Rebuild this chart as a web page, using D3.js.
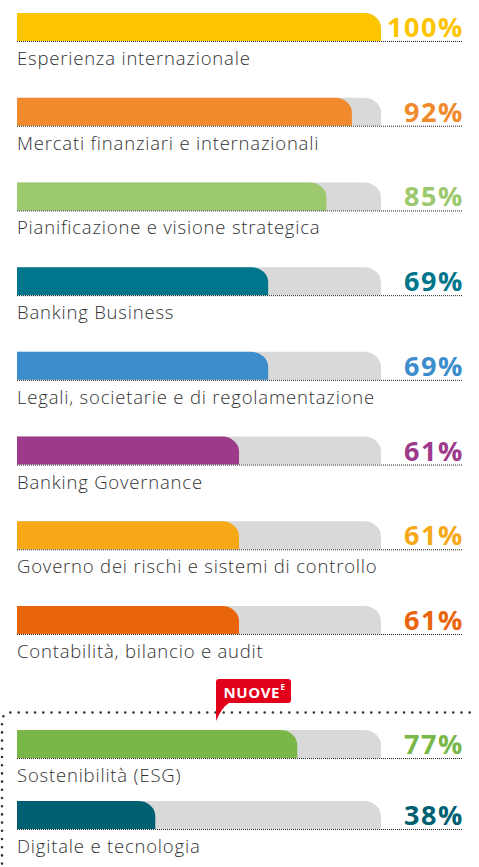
<!DOCTYPE html>
<html>
<head>
<meta charset="utf-8">
<script src="https://cdn.jsdelivr.net/npm/d3@7"></script>
<style>
  html, body { margin: 0; padding: 0; background: #fff; }
  svg { display: block; }
</style>
</head>
<body>
<svg id="chart" width="479" height="867"></svg>
<script>
// Competenze: quota in percentuale
const categories = [
  "Esperienza internazionale",
  "Mercati finanziari e internazionali",
  "Pianificazione e visione strategica",
  "Banking Business",
  "Legali, societarie e di regolamentazione",
  "Banking Governance",
  "Governo dei rischi e sistemi di controllo",
  "Contabilità, bilancio e audit"
];
const values = [100, 92, 85, 69, 69, 61, 61, 61];
const colors = ["#fdc400", "#f18a2c", "#9cc96d", "#00768c", "#3b8dcb", "#9d3a8a", "#f6a817", "#e9650c"];

// Nuove competenze
const newCategories = ["Sostenibilità (ESG)", "Digitale e tecnologia"];
const newValues = [77, 38];
const newColors = ["#78b748", "#005f70"];

const badgeText = "NUOVE";
const badgeSup = "E";

const svg = d3.select("#chart");
const x = d3.scaleLinear().domain([0, 100]).range([17, 381]);
const barH = 28;
const lineEnd = 463;

const yTop = d3.scalePoint().domain(categories).range([13, 606]);
const yNew = d3.scalePoint().domain(newCategories).range([730, 801]);

function barPath(x0, x1, y0, h) {
  const rx = Math.min(17, x1 - x0), ry = 15;
  return `M${x0},${y0 + h}V${y0}H${x1 - rx}A${rx},${ry} 0 0 1 ${x1},${y0 + ry}V${y0 + h}Z`;
}

function drawGroup(cats, vals, cols, y) {
  const rows = cats.map((c, i) => ({ c, v: vals[i], col: cols[i] }));
  const g = svg.append("g").selectAll("g").data(rows).join("g")
    .attr("transform", d => `translate(0,${y(d.c)})`);

  g.append("path")
    .attr("d", barPath(x(0), x(100), 0, barH))
    .attr("fill", "#d9d9d9");
  g.append("path")
    .attr("d", d => barPath(x(0), x(d.v), 0, barH))
    .attr("fill", d => d.col);
  g.append("line")
    .attr("x1", x(0)).attr("x2", lineEnd)
    .attr("y1", barH + 0.5).attr("y2", barH + 0.5)
    .attr("stroke", "#222").attr("stroke-width", 1)
    .attr("stroke-dasharray", "1 1");
  g.append("text")
    .attr("x", lineEnd + 1).attr("y", barH - 4)
    .attr("text-anchor", "end")
    .attr("font-family", "'Open Sans', sans-serif")
    .attr("font-weight", 700)
    .attr("font-size", 27)
    .attr("letter-spacing", 1.6)
    .attr("fill", d => d.col)
    .text(d => d.v + "%");
  g.append("text")
    .attr("x", x(0)).attr("y", barH + 24)
    .attr("font-family", "'Open Sans', sans-serif")
    .attr("font-weight", 300)
    .attr("font-size", 18.5)
    .attr("letter-spacing", 0.8)
    .attr("fill", "#333")
    .text(d => d.c);
}

drawGroup(categories, values, colors, yTop);

// Cornice tratteggiata per le nuove competenze
svg.append("path")
  .attr("d", "M2,880V722Q2,712.5 12,712.5H476")
  .attr("fill", "none")
  .attr("stroke", "#333")
  .attr("stroke-width", 2.6)
  .attr("stroke-linecap", "round")
  .attr("stroke-dasharray", "0 8.2");

drawGroup(newCategories, newValues, newColors, yNew);

// Etichetta "NUOVE"
const badge = svg.append("g");
badge.append("path")
  .attr("d", "M219,679H288Q291,679 291,682V700Q291,703 288,703H229Q222,707 216,721V682Q216,679 219,679Z")
  .attr("fill", "#e2001a");
badge.append("text")
  .attr("x", 223.5).attr("y", 697.5)
  .attr("font-family", "'Open Sans', sans-serif")
  .attr("font-weight", 700)
  .attr("font-size", 15)
  .attr("letter-spacing", 0.6)
  .attr("fill", "#fff")
  .text(badgeText);
badge.append("text")
  .attr("x", 280.5).attr("y", 690)
  .attr("font-family", "'Open Sans', sans-serif")
  .attr("font-weight", 700)
  .attr("font-size", 8)
  .attr("fill", "#fff")
  .text(badgeSup);
</script>
</body>
</html>
